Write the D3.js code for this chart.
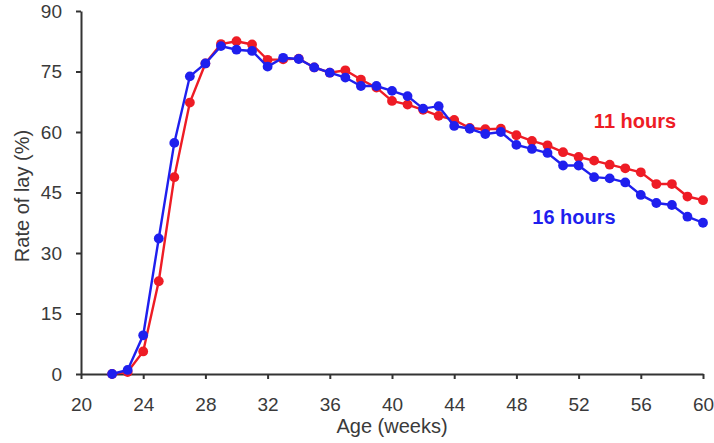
<!DOCTYPE html>
<html>
<head>
<meta charset="utf-8">
<script src="https://cdn.jsdelivr.net/npm/d3@7"></script>
<style>
  html, body { margin: 0; padding: 0; background: #fff; }
  svg { display: block; font-family: "Liberation Sans", Arial, sans-serif; }
</style>
</head>
<body>
<svg id="chart" width="714" height="443"></svg>
<script>
const weeks = [22,23,24,25,26,27,28,29,30,31,32,33,34,35,36,37,38,39,40,41,42,43,44,45,46,47,48,49,50,51,52,53,54,55,56,57,58,59,60];
const hours11 = [0,0.5,5.6,23,48.8,67.3,77,81.8,82.5,81.7,77.9,78,78.2,76,74.7,75.3,73,71,67.7,66.8,65.5,64,63,61,60.7,60.8,59.2,57.8,56.7,55,53.8,52.9,51.9,51,50,47.1,47.1,44,43.1];
const hours16 = [0,1,9.6,33.6,57.3,73.8,77,81.3,80.4,80.1,76.2,78.4,78.1,76,74.7,73.5,71.4,71.4,70.2,68.9,65.8,66.4,61.5,60.8,59.5,60,56.8,55.8,54.8,51.7,51.7,48.8,48.5,47.5,44.4,42.4,41.9,39,37.5];
const xTicks = [20,24,28,32,36,40,44,48,52,56,60];
const yTicks = [0,15,30,45,60,75,90];
const seriesNames = ["11 hours", "16 hours"];
const xTitle = "Age (weeks)";
const yTitle = "Rate of lay (%)";

const RED = "#ee1c25", BLUE = "#1f1fee";
const svg = d3.select("#chart");
const x = d3.scaleLinear().domain([20, 60]).range([81, 703]);
const y = d3.scaleLinear().domain([0, 90]).range([374, 11]);

const axisColor = "#333";
const gx = svg.append("g").attr("transform", "translate(0,374)")
  .call(d3.axisBottom(x).tickValues(xTicks).tickSizeInner(5).tickSizeOuter(0).tickPadding(19));
const gy = svg.append("g").attr("transform", "translate(81,0)")
  .call(d3.axisLeft(y).tickValues(yTicks).tickSizeInner(5).tickSizeOuter(0).tickPadding(14));
[gx, gy].forEach(g => {
  g.select(".domain").attr("stroke", axisColor).attr("stroke-width", 2);
  g.selectAll(".tick line").attr("stroke", axisColor).attr("stroke-width", 2);
  g.selectAll(".tick text").attr("fill", "#3a3a3a").style("font-size", "19px");
});

svg.append("text").attr("x", 392).attr("y", 433).attr("text-anchor", "middle")
  .attr("fill", "#3a3a3a").style("font-size", "20px").text(xTitle);
svg.append("text").attr("transform", "translate(29,196) rotate(-90)").attr("text-anchor", "middle")
  .attr("fill", "#3a3a3a").style("font-size", "20px").text(yTitle);

const series = [
  { name: seriesNames[0], values: hours11, color: RED },
  { name: seriesNames[1], values: hours16, color: BLUE }
];
const line = d3.line().x((d, i) => x(weeks[i])).y(d => y(d));
series.forEach(s => {
  svg.append("path").datum(s.values).attr("d", line)
    .attr("fill", "none").attr("stroke", s.color).attr("stroke-width", 2.4);
  svg.append("g").selectAll("circle").data(s.values).join("circle")
    .attr("cx", (d, i) => x(weeks[i])).attr("cy", d => y(d)).attr("r", 4.9)
    .attr("fill", s.color);
});

svg.append("text").attr("x", 635).attr("y", 128).attr("text-anchor", "middle")
  .attr("fill", RED).style("font-size", "20px").style("font-weight", "bold").text(seriesNames[0]);
svg.append("text").attr("x", 574).attr("y", 224).attr("text-anchor", "middle")
  .attr("fill", BLUE).style("font-size", "20px").style("font-weight", "bold").text(seriesNames[1]);
</script>
</body>
</html>
